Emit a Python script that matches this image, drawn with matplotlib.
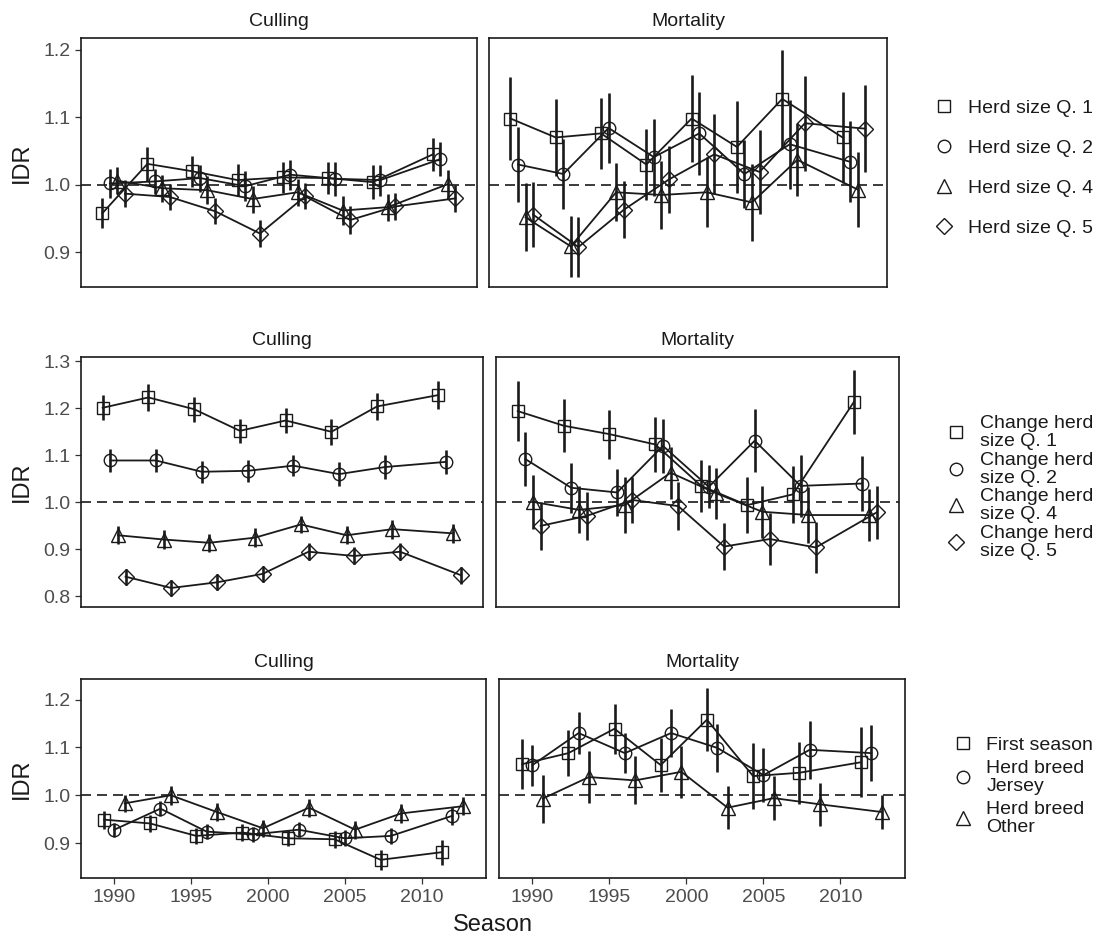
import matplotlib.pyplot as plt
from matplotlib.lines import Line2D

plt.rcParams['font.family'] = ['Liberation Sans', 'DejaVu Sans']

seasons = [1990, 1993, 1996, 1999, 2002, 2005, 2008, 2012]

# --- herd size quintiles ---
size_labels = ["Herd size Q. 1", "Herd size Q. 2", "Herd size Q. 4", "Herd size Q. 5"]
size_cull = [
    [0.958, 1.031, 1.020, 1.007, 1.011, 1.010, 1.004, 1.045],
    [1.002, 1.005, 1.010, 0.998, 1.015, 1.009, 1.007, 1.038],
    [1.006, 0.995, 0.992, 0.979, 0.989, 0.962, 0.967, 1.001],
    [0.987, 0.982, 0.961, 0.928, 0.983, 0.948, 0.968, 0.980],
]
size_cull_err = [
    [0.022, 0.025, 0.023, 0.024, 0.023, 0.024, 0.025, 0.024],
    [0.022, 0.019, 0.020, 0.022, 0.022, 0.025, 0.023, 0.025],
    [0.020, 0.020, 0.021, 0.020, 0.020, 0.021, 0.020, 0.021],
    [0.020, 0.019, 0.019, 0.020, 0.019, 0.021, 0.020, 0.020],
]
size_mort = [
    [1.098, 1.070, 1.076, 1.030, 1.098, 1.056, 1.127, 1.070],
    [1.030, 1.016, 1.084, 1.041, 1.076, 1.016, 1.060, 1.034],
    [0.952, 0.909, 0.989, 0.985, 0.989, 0.974, 1.037, 0.993],
    [0.956, 0.908, 0.963, 1.008, 1.045, 1.019, 1.091, 1.083],
]
size_mort_err = [
    [0.062, 0.057, 0.052, 0.053, 0.064, 0.068, 0.073, 0.067],
    [0.055, 0.052, 0.052, 0.057, 0.061, 0.050, 0.066, 0.060],
    [0.050, 0.045, 0.043, 0.050, 0.052, 0.057, 0.054, 0.055],
    [0.048, 0.044, 0.042, 0.049, 0.059, 0.062, 0.070, 0.064],
]

# --- change in herd size quintiles ---
change_labels = ["Change herd\nsize Q. 1", "Change herd\nsize Q. 2",
                 "Change herd\nsize Q. 4", "Change herd\nsize Q. 5"]
change_cull = [
    [1.201, 1.223, 1.198, 1.152, 1.174, 1.150, 1.204, 1.228],
    [1.089, 1.089, 1.065, 1.067, 1.078, 1.060, 1.075, 1.086],
    [0.930, 0.921, 0.914, 0.925, 0.953, 0.930, 0.943, 0.934],
    [0.842, 0.818, 0.830, 0.848, 0.895, 0.886, 0.895, 0.845],
]
change_cull_err = [
    [0.027, 0.029, 0.027, 0.026, 0.026, 0.028, 0.029, 0.029],
    [0.024, 0.025, 0.023, 0.024, 0.023, 0.025, 0.026, 0.026],
    [0.019, 0.020, 0.019, 0.020, 0.019, 0.019, 0.020, 0.020],
    [0.017, 0.017, 0.017, 0.017, 0.018, 0.018, 0.018, 0.018],
]
change_mort = [
    [1.194, 1.163, 1.145, 1.123, 1.035, 0.994, 1.017, 1.214],
    [1.092, 1.031, 1.021, 1.120, 1.033, 1.131, 1.035, 1.040],
    [1.001, 0.984, 0.994, 1.063, 1.019, 0.980, 0.973, 0.973],
    [0.950, 0.971, 1.005, 0.992, 0.906, 0.922, 0.904, 0.979],
]
change_mort_err = [
    [0.063, 0.057, 0.052, 0.058, 0.056, 0.060, 0.061, 0.068],
    [0.058, 0.053, 0.050, 0.057, 0.046, 0.067, 0.066, 0.058],
    [0.058, 0.050, 0.060, 0.055, 0.055, 0.055, 0.060, 0.055],
    [0.051, 0.050, 0.048, 0.051, 0.050, 0.055, 0.055, 0.056],
]

# --- first season / breed ---
breed_labels = ["First season", "Herd breed\nJersey", "Herd breed\nOther"]
breed_cull = [
    [0.949, 0.941, 0.915, 0.922, 0.910, 0.908, 0.865, 0.881],
    [0.928, 0.972, 0.924, 0.918, 0.928, 0.910, 0.915, 0.957],
    [0.983, 1.000, 0.965, 0.931, 0.974, 0.928, 0.962, 0.977],
]
breed_cull_err = [
    [0.019, 0.017, 0.017, 0.017, 0.017, 0.018, 0.021, 0.026],
    [0.015, 0.016, 0.015, 0.016, 0.016, 0.017, 0.017, 0.019],
    [0.018, 0.020, 0.019, 0.018, 0.019, 0.019, 0.019, 0.019],
]
breed_mort = [
    [1.065, 1.088, 1.139, 1.063, 1.158, 1.040, 1.047, 1.069],
    [1.063, 1.130, 1.088, 1.130, 1.099, 1.042, 1.095, 1.088],
    [0.993, 1.038, 1.031, 1.049, 0.974, 0.994, 0.981, 0.965],
]
breed_mort_err = [
    [0.052, 0.048, 0.052, 0.056, 0.066, 0.069, 0.065, 0.073],
    [0.043, 0.044, 0.042, 0.050, 0.050, 0.057, 0.061, 0.059],
    [0.050, 0.054, 0.050, 0.054, 0.045, 0.046, 0.045, 0.036],
]

markers = ['s', 'o', '^', 'D']
msizes = {'s': 8.5, 'o': 9, '^': 10, 'D': 7.8}
ink = '#1a1a1a'
W, H = 1103, 941


def px_axes(fig, x0, y0, x1, y1):
    return fig.add_axes([x0 / W, 1 - y1 / H, (x1 - x0) / W, (y1 - y0) / H])


def draw_panel(ax, values, errs, title, ylim, yticks, left, bottom):
    n = len(values)
    offsets = [-0.75, -0.25, 0.25, 0.75] if n == 4 else [-0.67, 0.0, 0.67]
    ax.axhline(1.0, color=ink, lw=1.2, dashes=(6, 3.6), zorder=1)
    for vals, err, off, m in zip(values, errs, offsets, markers):
        xs = [s + off for s in seasons]
        ax.errorbar(xs, vals, yerr=err, fmt='none', ecolor=ink, elinewidth=1.9,
                    capsize=0, zorder=2)
        ax.plot(xs, vals, color=ink, lw=1.3, marker=m, ms=msizes[m], mfc='none',
                mec=ink, mew=1.0, zorder=3)
    ax.set_xlim(1987.83, 2014.19)
    ax.set_ylim(*ylim)
    ax.set_xticks([1990, 1995, 2000, 2005, 2010])
    ax.set_yticks(yticks)
    ax.set_yticklabels([f"{t:.1f}" for t in yticks])
    ax.set_title(title, fontsize=14, color=ink, pad=8.5)
    for sp in ax.spines.values():
        sp.set_color(ink)
        sp.set_linewidth(1.2)
    ax.tick_params(axis='both', length=4.3, width=0.9, color='#333333',
                   labelcolor='#4d4d4d', labelsize=14, pad=3.5,
                   left=left, labelleft=left, bottom=bottom, labelbottom=bottom)


def add_legend(fig, labels, x_key, y_mid, spacing):
    handles = [Line2D([], [], ls='none', marker=m, ms=msizes[m], mfc='none',
                      mec=ink, mew=1.0) for m in markers[:len(labels)]]
    leg = fig.legend(handles, labels, loc='center left',
                     bbox_to_anchor=(x_key / W, 1 - y_mid / H),
                     frameon=False, fontsize=14, borderpad=0, borderaxespad=0,
                     handlelength=1.0, handletextpad=0.7, labelspacing=spacing)
    for t in leg.get_texts():
        t.set_color(ink)
        t.set_linespacing(1.08)
    return leg


fig = plt.figure(figsize=(W / 100, H / 100), dpi=100)

rows = [
    (size_cull, size_cull_err, size_mort, size_mort_err, (0.849, 1.217),
     [0.9, 1.0, 1.1, 1.2], (81, 477, 489, 887), (38, 287), False),
    (change_cull, change_cull_err, change_mort, change_mort_err, (0.7775, 1.309),
     [0.8, 0.9, 1.0, 1.1, 1.2, 1.3], (81, 483, 496, 899), (357, 607), False),
    (breed_cull, breed_cull_err, breed_mort, breed_mort_err, (0.827, 1.243),
     [0.9, 1.0, 1.1, 1.2], (81, 486, 499, 905), (679, 878), True),
]

for cull, cull_err, mort, mort_err, ylim, yticks, xs, ys, show_x in rows:
    ax_c = px_axes(fig, xs[0], ys[0], xs[1], ys[1])
    ax_m = px_axes(fig, xs[2], ys[0], xs[3], ys[1])
    draw_panel(ax_c, cull, cull_err, "Culling", ylim, yticks, True, show_x)
    draw_panel(ax_m, mort, mort_err, "Mortality", ylim, yticks, False, show_x)
    fig.text(21.5 / W, 1 - (ys[0] + ys[1]) / 2 / H, "IDR", rotation=90,
             ha='center', va='center', fontsize=17, color=ink)

add_legend(fig, size_labels, 934.6, 168, 1.15)
add_legend(fig, change_labels, 946.6, 487.5, 0.08)
add_legend(fig, breed_labels, 953.3, 786, 0.3)

fig.text(493 / W, 1 - 925 / H, "Season", ha='center', va='center',
         fontsize=17, color=ink)

fig.savefig("out.png", dpi=100)
